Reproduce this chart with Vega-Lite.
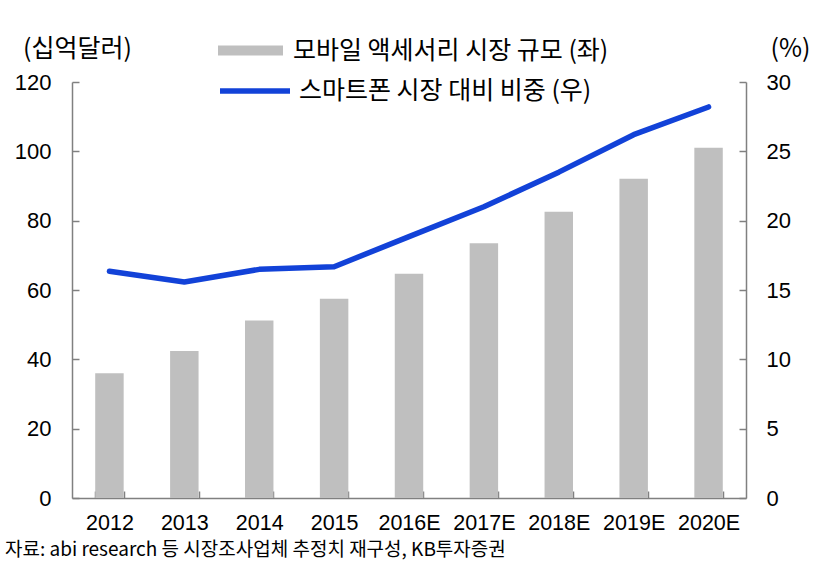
{
  "$schema": "https://vega.github.io/schema/vega-lite/v6.json",
  "width": 674,
  "height": 416,
  "autosize": {"type": "none"},
  "padding": {"left": 72, "top": 82, "right": 73, "bottom": 69},
  "background": "white",
  "config": {
    "view": {"stroke": null},
    "font": "Liberation Sans",
    "axis": {"grid": false, "domainColor": "#808080", "tickColor": "#808080", "domainWidth": 1.5, "tickWidth": 1.5, "labelColor": "#000000", "labelFont": "Liberation Sans", "labelFontSize": 22, "titleFont": "Noto Sans CJK KR", "titleFontSize": 25, "titleFontWeight": "normal", "titleColor": "#000000"},
    "legend": {"padding": 0, "labelFont": "Noto Sans CJK KR", "labelFontSize": 25, "labelColor": "#000000", "labelLimit": 500, "title": null}
  },
  "title": {
    "text": "자료: abi research 등 시장조사업체 추정치 재구성, KB투자증권",
    "orient": "bottom",
    "anchor": "start",
    "frame": "group",
    "dx": -67,
    "offset": 7,
    "font": "Noto Sans CJK KR",
    "fontSize": 19,
    "fontWeight": "normal",
    "color": "#000000"
  },
  "data": {
    "values": [
      {"year": "2012", "size": 36.0, "share": 16.35},
      {"year": "2013", "size": 42.4, "share": 15.58},
      {"year": "2014", "size": 51.2, "share": 16.49},
      {"year": "2015", "size": 57.5, "share": 16.68},
      {"year": "2016E", "size": 64.7, "share": 18.85},
      {"year": "2017E", "size": 73.5, "share": 21.0},
      {"year": "2018E", "size": 82.6, "share": 23.5},
      {"year": "2019E", "size": 92.1, "share": 26.2},
      {"year": "2020E", "size": 101.0, "share": 28.2}
    ]
  },
  "encoding": {
    "x": {
      "field": "year",
      "type": "ordinal",
      "sort": null,
      "scale": {"paddingInner": 0.62, "paddingOuter": 0.31},
      "axis": {"title": null, "labelAngle": 0, "tickSize": -7, "tickBand": "extent", "labelPadding": 21, "labelFlush": false, "labelFontSize": 21.5}
    }
  },
  "layer": [
    {
      "mark": {"type": "bar"},
      "encoding": {
        "y": {
          "field": "size",
          "type": "quantitative",
          "scale": {"domain": [0, 120], "nice": false},
          "axis": {"orient": "left", "values": [0, 20, 40, 60, 80, 100, 120], "tickSize": -7, "labelPadding": 28, "title": "(십억달러)", "titleAngle": 0, "titleAlign": "center", "titleBaseline": "middle", "titleX": 5, "titleY": -34}
        },
        "color": {
          "datum": "모바일 액세서리 시장 규모 (좌)",
          "scale": {"range": ["#BFBFBF"]},
          "legend": {"orient": "none", "legendX": 146, "legendY": -64, "symbolType": "M-1,-0.154L1,-0.154L1,0.154L-1,0.154Z", "symbolSize": 4225, "symbolStrokeWidth": 0, "symbolOpacity": 1, "labelOffset": 10}
        }
      }
    },
    {
      "mark": {"type": "line", "interpolate": "linear", "strokeWidth": 5.5, "strokeCap": "round", "strokeJoin": "round"},
      "encoding": {
        "y": {
          "field": "share",
          "type": "quantitative",
          "scale": {"domain": [0, 30], "nice": false},
          "axis": {"orient": "right", "values": [0, 5, 10, 15, 20, 25, 30], "tickSize": -7, "labelPadding": 27, "title": "(%)", "titleAngle": 0, "titleAlign": "center", "titleBaseline": "middle", "titleX": 44, "titleY": -34}
        },
        "stroke": {
          "datum": "스마트폰 시장 대비 비중 (우)",
          "scale": {"range": ["#1242D8"]},
          "legend": {"orient": "none", "legendX": 145, "legendY": -29, "symbolType": "stroke", "symbolSize": 4900, "symbolStrokeWidth": 5.5, "labelOffset": 6}
        }
      }
    }
  ],
  "resolve": {"scale": {"y": "independent"}}
}
